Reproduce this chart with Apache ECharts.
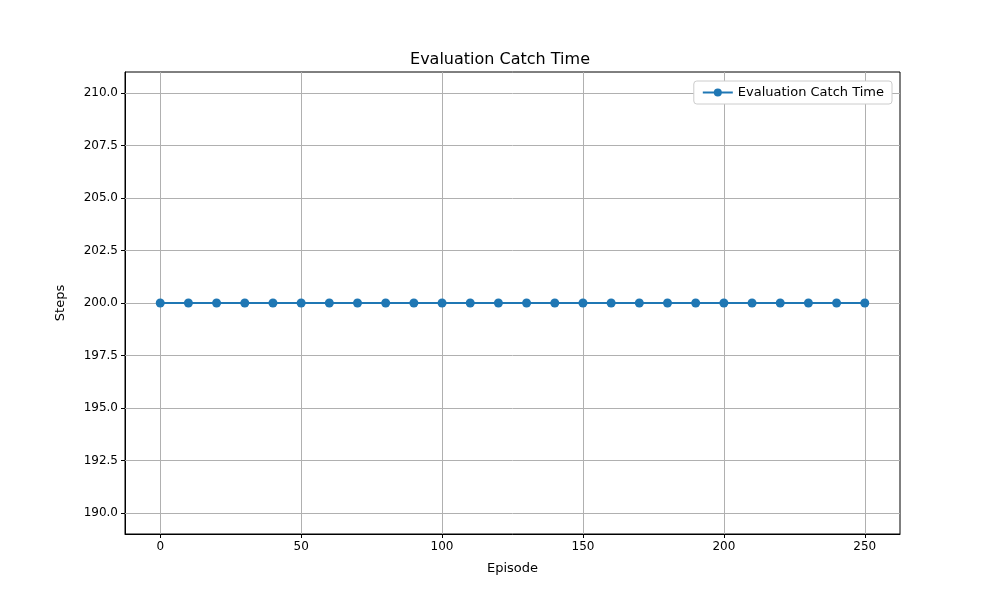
<!DOCTYPE html>
<html>
<head>
<meta charset="utf-8">
<script src="https://cdn.jsdelivr.net/npm/echarts@6/dist/echarts.min.js"></script>
</head>
<body style="margin:0">
<div id="main" style="width:1000px;height:600px"></div>
<script>
var episodes = [0,10,20,30,40,50,60,70,80,90,100,110,120,130,140,150,160,170,180,190,200,210,220,230,240,250];
var catchTime = [200,200,200,200,200,200,200,200,200,200,200,200,200,200,200,200,200,200,200,200,200,200,200,200,200,200];
var xTicks = [0,50,100,150,200,250];
var yTicks = [190,192.5,195,197.5,200,202.5,205,207.5,210];

var font = 'DejaVu Sans';
var gridLine = {color: '#b0b0b0', width: 1, type: 'solid'};
var myChart = echarts.init(document.getElementById('main'));
var lines = [];
xTicks.forEach(function (v) { lines.push({xAxis: v}); });
yTicks.forEach(function (v) { lines.push({yAxis: v}); });

myChart.setOption({
    animation: false,
    textStyle: {fontFamily: font},
    title: {text: 'Evaluation Catch Time', left: 'center', top: 47,
        textStyle: {fontFamily: font, fontSize: 16, fontWeight: 'normal', color: '#000'}},
    legend: {right: 108, top: 81, itemWidth: 30, itemHeight: 10,
        backgroundColor: '#fff', borderColor: '#ccc', borderWidth: 1, borderRadius: 3, padding: [5, 8],
        textStyle: {fontFamily: font, fontSize: 13, color: '#000'}},
    grid: {left: 125, right: 100, top: 72, bottom: 66, show: true,
        borderColor: '#000', borderWidth: 1, backgroundColor: 'transparent'},
    xAxis: {
        type: 'value', min: -12.5, max: 262.5,
        name: 'Episode', nameLocation: 'middle', nameGap: 28,
        nameTextStyle: {fontFamily: font, fontSize: 13, color: '#000'},
        axisLine: {onZero: false, lineStyle: {color: '#000'}},
        axisTick: {show: true, customValues: xTicks, length: 4, lineStyle: {color: '#000'}},
        axisLabel: {customValues: xTicks, color: '#000', fontSize: 12, margin: 7},
        splitLine: {show: false}
    },
    yAxis: {
        type: 'value', min: 189, max: 211,
        name: 'Steps', nameLocation: 'middle', nameGap: 58,
        nameTextStyle: {fontFamily: font, fontSize: 13, color: '#000'},
        axisLine: {show: true, onZero: false, lineStyle: {color: '#000'}},
        axisTick: {show: true, customValues: yTicks, length: 4, lineStyle: {color: '#000'}},
        axisLabel: {customValues: yTicks, color: '#000', fontSize: 12, margin: 7,
            formatter: function (v) { return v.toFixed(1); }},
        splitLine: {show: false}
    },
    series: [{
        name: 'Evaluation Catch Time',
        type: 'line',
        data: episodes.map(function (e, i) { return [e, catchTime[i]]; }),
        symbol: 'circle', symbolSize: 9,
        itemStyle: {color: '#1f77b4'},
        lineStyle: {color: '#1f77b4', width: 2},
        markLine: {silent: true, symbol: 'none', label: {show: false},
            lineStyle: gridLine, z: 1, data: lines}
    }]
});
</script>
</body>
</html>
